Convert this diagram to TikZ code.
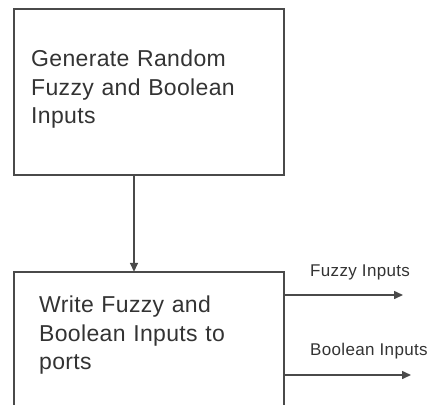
\documentclass[tikz,border=0pt]{standalone}
\usepackage{fontspec}
\setmainfont{Liberation Sans}
\usetikzlibrary{arrows.meta}
\definecolor{linec}{HTML}{4A4A4A}
\definecolor{txtc}{HTML}{333333}
\tikzset{
  boxtext/.style={align=left, text width=240pt, inner sep=0pt, text=txtc,
    font=\fontsize{23}{28.5}\selectfont\addfontfeature{LetterSpace=1.5}},
  lbl/.style={anchor=west, inner sep=0pt, text=txtc,
    font=\fontsize{17}{19}\selectfont\addfontfeature{LetterSpace=2}},
  conn/.style={draw=linec, line width=1.5pt, -{Triangle[length=9pt,width=8pt]}},
  frame/.style={draw=linec, line width=1.5pt}
}
\begin{document}
\begin{tikzpicture}[x=1pt,y=-1pt]
\useasboundingbox (0,0) rectangle (436,404);
% top box
\node[frame, minimum width=270pt, minimum height=166pt, inner sep=0pt] (top) at (149,92) {};
\node[boxtext, anchor=north west] (toptxt) at (31,50) {Generate Random\\Fuzzy and Boolean\\Inputs};
% bottom box (open at bottom)
\node[minimum width=270pt, minimum height=126pt, inner sep=0pt] (bot) at (149,335) {};
\draw[frame] ([yshift=-20pt]bot.south west) -- (bot.north west) -- (bot.north east) -- ([yshift=-20pt]bot.south east);
\node[boxtext, anchor=north west] (bottxt) at (39,296) {Write Fuzzy and\\Boolean Inputs to\\ports};
% vertical connector
\coordinate (ax) at (134,0);
\draw[conn] (top.south -| ax) -- (bot.north -| ax);
% outputs
\coordinate (fz) at (403,295);
\coordinate (bl) at (411,375);
\draw[conn] (bot.east |- fz) -- (fz);
\draw[conn] (bot.east |- bl) -- (bl);
\node[lbl] (fzl) at (310,272) {Fuzzy Inputs};
\node[lbl] (bll) at (310,351) {Boolean Inputs};
\end{tikzpicture}
\end{document}
